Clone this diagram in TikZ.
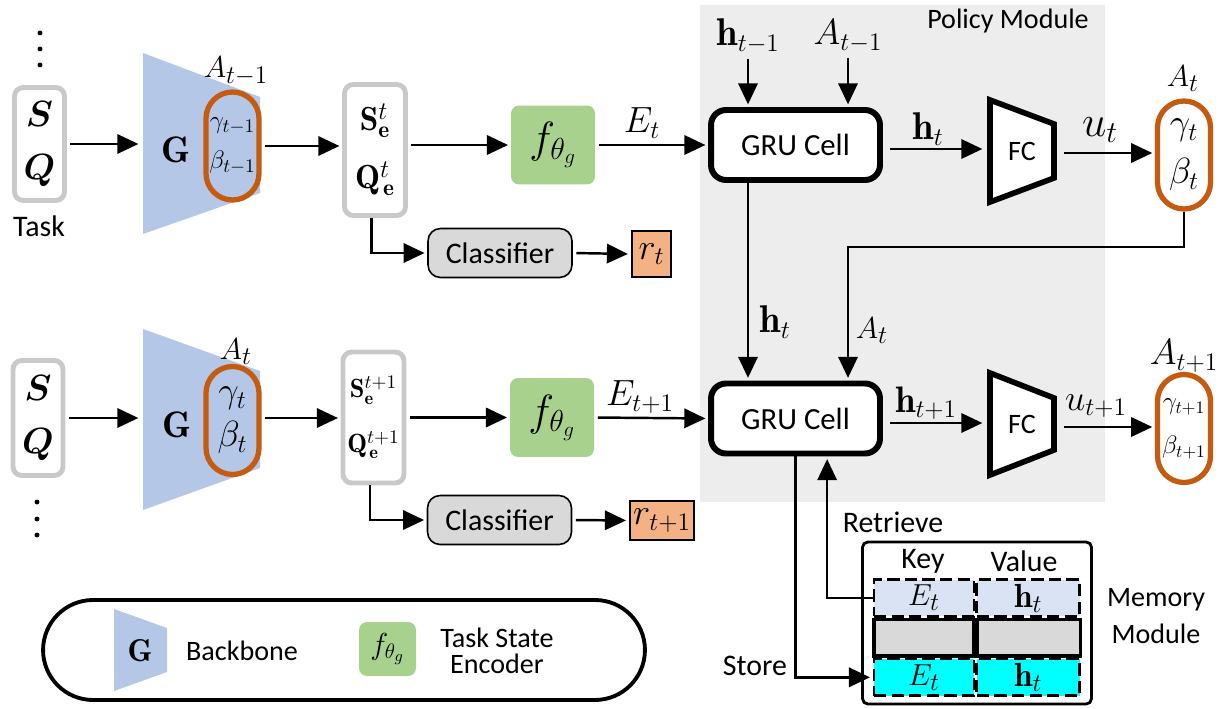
\documentclass[tikz,border=0pt]{standalone}
\usepackage{fontspec}
\setsansfont{Carlito}
\usepackage{amsmath,bm}
\usetikzlibrary{arrows.meta,positioning,calc}
\definecolor{bbblue}{HTML}{B4C7E7}
\definecolor{encgreen}{HTML}{A9D18E}
\definecolor{parorange}{HTML}{C55A11}
\definecolor{rwdorange}{HTML}{F4B183}
\definecolor{policygray}{HTML}{EDEDED}
\definecolor{framegray}{HTML}{C9C9C9}
\definecolor{clsgray}{HTML}{D9D9D9}
\definecolor{keyblue}{HTML}{DAE3F3}
\definecolor{storecyan}{HTML}{00FFFF}
\newcommand{\fs}[1]{\fontsize{#1}{#1}\selectfont}

\begin{document}
\begin{tikzpicture}[x=0.02cm, y=-0.02cm,
  >={Triangle[length=12pt,width=11pt]},
  arr/.style={->, line width=1.4pt, shorten <=2pt, shorten >=1.5pt},
  lbl/.style={font=\sffamily\fs{17}},
  framebox/.style={draw=framegray, line width=2.8pt, rounded corners=5pt, fill=white, align=center, inner sep=0pt},
  capsule/.style={draw=parorange, line width=3pt, rounded corners=0.53cm, minimum width=1.06cm, minimum height=2.16cm, align=center, inner sep=0pt},
  gru/.style={draw, line width=3.4pt, rounded corners=0.3cm, fill=white, minimum width=3.38cm, minimum height=1.4cm, font=\sffamily\fs{17.5}},
  encoder/.style={fill=encgreen, rounded corners=0.16cm, minimum width=1.68cm, minimum height=1.58cm, font=\fs{26}},
  classifier/.style={draw, fill=clsgray, line width=0.9pt, rounded corners=0.25cm, minimum width=2.88cm, minimum height=0.98cm, font=\sffamily\fs{17}},
  reward/.style={draw, fill=rwdorange, line width=1.6pt, inner sep=0pt},
  fcshape/.style={draw, fill=white, line width=3.2pt, line join=miter},
  memrow/.style={line width=1.6pt, minimum height=0.73cm, inner sep=0pt, font=\fs{19}},
  dashrow/.style={memrow, draw, dash pattern=on 7pt off 3pt}
]
\useasboundingbox (0,0) rectangle (1226,709);

% Policy module background
\fill[policygray] (700,5) rectangle (1105,502);
\node[font=\sffamily\fs{16}] (policylbl) at (1008,21) {Policy Module};

% ---------------- step t (top row) ----------------
\foreach \y in {33,49,65} \fill (40,\y) circle (1.4pt);
\node[framebox, minimum width=1.0cm, minimum height=2.26cm, font=\fontsize{21}{30}\selectfont] (taskA) at (39.5,144) {$\bm{S}$\\$\bm{Q}$};
\node[lbl] (tasklbl) at (39,226) {Task};
% backbone
\fill[bbblue] (143,53) -- (260,97) -- (260,193) -- (143,234) -- cycle;
\coordinate (bbAin) at (141,144);
\node[font=\fs{21}] (gA) at (176,150) {$\mathbf{G}$};
\node[capsule, font=\fontsize{15}{23}\selectfont] (capA) at (232.5,146) {$\gamma_{t-1}$\\$\beta_{t-1}$};
\node[font=\fs{19}] (capAlbl) at (236,71) {$A_{t-1}$};
% embeddings
\node[framebox, minimum width=1.22cm, minimum height=2.62cm, font=\fontsize{19}{33}\selectfont] (seA) at (375,150) {$\mathbf{S}_{\mathbf{e}}^{t}$\\$\mathbf{Q}_{\mkern2mu\mathbf{e}}^{t}$};
\node[encoder] (fA) at (553,145) {$f_{\theta_g}$};
\node[classifier] (clsA) at (500,253) {Classifier};
\node[reward, minimum width=0.78cm, minimum height=0.92cm, font=\fs{22}] (rA) at (651.5,254) {$r_t$};
% policy
\node[gru] (gruA) at (795.5,145) {GRU Cell};
\node[font=\fs{22}, inner sep=1pt] (hprev) at (748,36) {$\mathbf{h}_{t-1}$};
\node[font=\fs{22}, inner sep=1pt] (aprev) at (848,36) {$A_{t-1}$};
\draw[fcshape] (990,100) -- (1054,124) -- (1054,178) -- (990,202) -- cycle;
\node[font=\sffamily\fs{16}] (fcA) at (1022,151) {FC};
\coordinate (fcAin) at (985,149);
\coordinate (fcAout) at (1060,153);
\node[capsule, font=\fontsize{20}{28}\selectfont] (capR) at (1184,155) {$\gamma_t$\\$\beta_t$};
\node[font=\fs{19}] (capRlbl) at (1183,79) {$A_t$};

% arrows
\draw[arr] (taskA.east |- bbAin) -- (bbAin);
\draw[arr] (capA.east) -- (capA.east -| seA.west);
\draw[arr] (fA.west -| seA.east) -- (fA.west);
\draw[arr] (fA.east) -- (gruA.west);
\node[font=\fs{21}] (eA) at (642,123) {$E_t$};
\draw[arr, shorten <=0pt] ([xshift=-2pt]seA.south) |- (clsA.west);
\draw[arr] (clsA.east) -- (rA.west);
\draw[arr] (hprev) -- (hprev |- gruA.north);
\draw[arr] (aprev) -- (aprev |- gruA.north);
\draw[arr, shorten <=4pt] (gruA.east |- fcAin) -- (fcAin);
\node[font=\fs{22}] (hA) at (928,129) {$\mathbf{h}_t$};
\draw[arr] (fcAout) -- (fcAout -| capR.west);
\node[font=\fs{23}] (uA) at (1100,130) {$u_t$};

% ---------------- step t+1 (bottom row) ----------------
\foreach \y in {502,519,535} \fill (37,\y) circle (1.4pt);
\node[framebox, minimum width=1.0cm, minimum height=2.3cm, font=\fontsize{21}{30}\selectfont] (taskB) at (38,418) {$\bm{S}$\\$\bm{Q}$};
\fill[bbblue] (143,329) -- (260,371) -- (260,468) -- (143,510) -- cycle;
\coordinate (bbBin) at (141,418);
\node[font=\fs{21}] (gB) at (177,425) {$\mathbf{G}$};
\node[capsule, font=\fontsize{20}{25}\selectfont] (capB) at (232.5,420.5) {$\gamma_t$\\$\beta_t$};
\node[font=\fs{19}] (capBlbl) at (236,352) {$A_t$};
\node[framebox, minimum width=1.22cm, minimum height=2.62cm, font=\fontsize{15}{31}\selectfont] (seB) at (373.5,417.5) {$\mathbf{S}_{\mathbf{e}}^{t+1}$\\$\mathbf{Q}_{\mkern2mu\mathbf{e}}^{t+1}$};
\node[encoder] (fB) at (552,417.5) {$f_{\theta_g}$};
\node[classifier] (clsB) at (499.5,520) {Classifier};
\node[reward, minimum width=1.28cm, minimum height=0.78cm, font=\fs{20}] (rB) at (662,520.5) {$r_{t+1}$};
\node[gru] (gruB) at (795.5,418.5) {GRU Cell};
\draw[fcshape] (990,373) -- (1054,398) -- (1054,450) -- (990,475) -- cycle;
\node[font=\sffamily\fs{16}] (fcB) at (1022,424) {FC};
\coordinate (fcBin) at (985,423);
\coordinate (fcBout) at (1060,427);
\node[capsule, font=\fontsize{14}{25}\selectfont] (capBR) at (1184,428.5) {$\gamma_{t+1}$\\$\beta_{t+1}$};
\node[font=\fs{21}] (capBRlbl) at (1184,356) {$A_{t+1}$};

% arrows
\draw[arr] (taskB.east |- bbBin) -- (bbBin);
\draw[arr] (capB.east |- bbBin) -- (bbBin -| seB.west);
\draw[arr] (fB.west -| seB.east) -- (fB.west);
\draw[arr] (fB.east) -- (gruB.west);
\node[font=\fs{21}] (eB) at (640,397) {$E_{t+1}$};
\draw[arr, shorten <=0pt] ([xshift=-2pt]seB.south) |- (clsB.west);
\draw[arr] (clsB.east) -- (rB.west);
\draw[arr, shorten <=4pt] (gruB.east |- fcBin) -- (fcBin);
\node[font=\fs{21}] (hB) at (926,403) {$\mathbf{h}_{t+1}$};
\draw[arr] (fcBout) -- (fcBout -| capBR.west);
\node[font=\fs{21}] (uB) at (1096,406) {$u_{t+1}$};

% recurrent links
\draw[arr, shorten <=0pt] (gruA.south -| hprev) -- (gruB.north -| hprev);
\node[font=\fs{22}] (hdown) at (775,322) {$\mathbf{h}_t$};
\coordinate (aturn) at (848,247);
\draw[arr, shorten <=0pt] (capR.south) |- (aturn) -- (aturn |- gruB.north);
\node[font=\fs{19}] (adown) at (872,331) {$A_t$};

% ---------------- memory module ----------------
\node[draw, line width=1.6pt, rounded corners=3pt, minimum width=4.58cm, minimum height=3.24cm] (membox) at (977,623) {};
\node[lbl] (keylbl) at (923,561) {Key};
\node[lbl] (vallbl) at (1024,561) {Value};
\node[dashrow, fill=keyblue, minimum width=2.0cm] (keyA) at (924,598) {$E_t$};
\node[dashrow, fill=keyblue, minimum width=2.06cm, right=0pt of keyA] (valA) {$\mathbf{h}_t$};
\node[memrow, draw, line width=2pt, fill=clsgray, minimum width=2.0cm, below=0pt of keyA] (keyB) {};
\node[memrow, draw, line width=2pt, fill=clsgray, minimum width=2.06cm, right=0pt of keyB] (valB) {};
\node[dashrow, fill=storecyan, minimum width=2.0cm, below=0pt of keyB] (keyC) {$E_t$};
\node[dashrow, fill=storecyan, minimum width=2.06cm, right=0pt of keyC] (valC) {$\mathbf{h}_t$};
\node[font=\sffamily\fontsize{16}{21.5}\selectfont, align=center] (memlbl) at (1156,616) {Memory\\Module};
\draw[arr, shorten <=0pt] (gruB.south) |- (keyC.west);
\node[lbl] (storelbl) at (755,666) {Store};
\draw[arr, shorten <=0pt] (keyA.west) -| ([xshift=18pt]gruB.south);
\node[lbl] (retrlbl) at (893,522) {Retrieve};

% ---------------- legend ----------------
\node[draw, line width=2.2pt, rounded corners=1cm, minimum width=12.04cm, minimum height=2.0cm] (legend) at (344,650) {};
\fill[bbblue] (114,609) -- (167,628) -- (167,672) -- (114,691) -- cycle;
\node[font=\fs{18}] (leggG) at (140,651) {$\mathbf{G}$};
\node[font=\sffamily\fs{16}] (legbb) at (242,651) {Backbone};
\node[encoder, minimum width=1.14cm, minimum height=1.08cm, font=\fs{18}] (legf) at (387.5,649) {$f_{\theta_g}$};
\node[font=\sffamily\fontsize{16}{14.7}\selectfont, align=center] (legenc) at (497,651) {Task State\\Encoder};
\end{tikzpicture}
\end{document}
